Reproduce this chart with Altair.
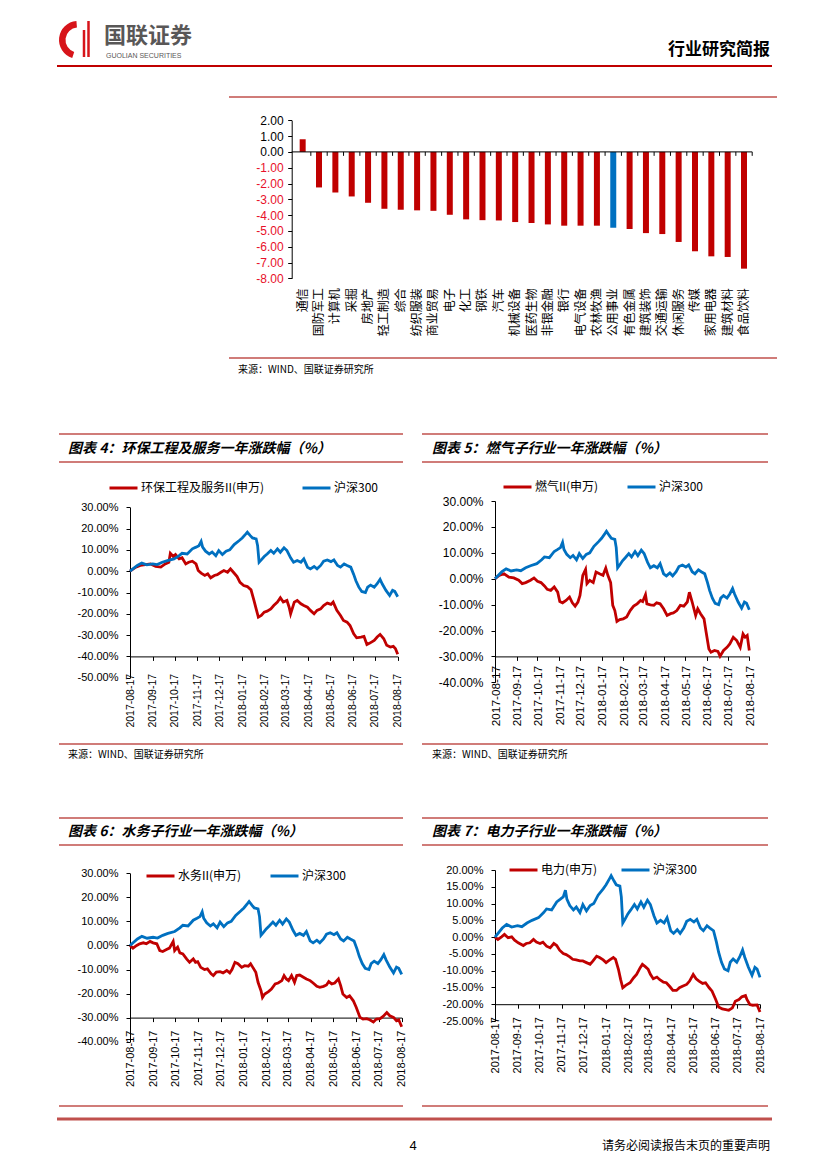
import altair as alt
import pandas as pd

CJK = "Noto Sans CJK SC"
LAT = "Liberation Sans"
SERIES_RED = "#C00000"
SERIES_BLUE = "#0070C0"
RULE_RED = "#C0504D"
W, H = 811, 1153


def P(v):
    return v - 8


# ---------------- data: industry bar chart ----------------
industries = ["通信", "国防军工", "计算机", "采掘", "房地产", "轻工制造", "综合", "纺织服装",
              "商业贸易", "电子", "化工", "钢铁", "汽车", "机械设备", "医药生物", "非银金融",
              "银行", "电气设备", "农林牧渔", "公用事业", "有色金属", "建筑装饰", "交通运输",
              "休闲服务", "传媒", "家用电器", "建筑材料", "食品饮料"]
changes = [0.80, -2.25, -2.57, -2.82, -3.22, -3.60, -3.66, -3.70, -3.73, -3.98, -4.27, -4.32,
           -4.34, -4.44, -4.50, -4.59, -4.67, -4.67, -4.67, -4.80, -4.88, -5.14, -5.20, -5.70,
           -6.29, -6.61, -6.65, -7.39]
highlight = "公用事业"
bar_ticks = [2, 1, 0, -1, -2, -3, -4, -5, -6, -7, -8]

# ---------------- data: 沪深300 ----------------
hs_dates = ["2017-08-17", "2017-08-27", "2017-09-02", "2017-09-09", "2017-09-17", "2017-09-23",
            "2017-09-30", "2017-10-07", "2017-10-16", "2017-10-23", "2017-10-27", "2017-11-03",
            "2017-11-10", "2017-11-15", "2017-11-19", "2017-11-22", "2017-11-24", "2017-11-28",
            "2017-12-03", "2017-12-07", "2017-12-12", "2017-12-16", "2017-12-21", "2017-12-26",
            "2017-12-31", "2018-01-06", "2018-01-13", "2018-01-17", "2018-01-22", "2018-01-24",
            "2018-01-28", "2018-01-31", "2018-02-05", "2018-02-07", "2018-02-09", "2018-02-12",
            "2018-02-16", "2018-02-20", "2018-02-25", "2018-03-01", "2018-03-06", "2018-03-10",
            "2018-03-15", "2018-03-19", "2018-03-24", "2018-03-28", "2018-04-02", "2018-04-07",
            "2018-04-11", "2018-04-16", "2018-04-20", "2018-04-25", "2018-04-29", "2018-05-04",
            "2018-05-08", "2018-05-13", "2018-05-18", "2018-05-22", "2018-05-27", "2018-05-31",
            "2018-06-05", "2018-06-09", "2018-06-14", "2018-06-18", "2018-06-21", "2018-06-25",
            "2018-06-29", "2018-07-04", "2018-07-07", "2018-07-11", "2018-07-16", "2018-07-20",
            "2018-07-24", "2018-07-27", "2018-08-01", "2018-08-06", "2018-08-10", "2018-08-13",
            "2018-08-17"]
hs_vals = [0, 2.7, 3.8, 3.0, 3.4, 3.1, 4.2, 5.0, 5.8, 7.3,
           8.4, 8.1, 10.5, 11.3, 12.0, 14.0, 11.3, 9.4, 8.1, 9.0,
           7.3, 9.7, 7.8, 9.4, 10.0, 12.5, 14.4, 15.6, 17.5, 18.3,
           16.7, 15.6, 15.2, 12.0, 4.2, 5.3, 6.9, 8.1, 9.7, 8.4,
           10.5, 8.9, 11.0, 9.7, 6.3, 4.2, 5.0, 4.2, 5.8, 1.9,
           1.1, 2.2, 1.1, 2.7, 4.7, 5.3, 4.5, 5.3, 2.7, 1.9,
           3.4, 2.7, 1.9, -1.5, -4.5, -7.5, -9.5, -10.0, -7.5, -6.5,
           -7.5, -5.9, -3.8, -6.0, -9.0, -11.4, -9.0, -9.5, -12.0]

# ---------------- data: 环保工程及服务II ----------------
hb_dates = ["2017-08-17", "2017-08-25", "2017-08-31", "2017-09-07", "2017-09-14", "2017-09-21",
            "2017-09-28", "2017-10-04", "2017-10-09", "2017-10-11", "2017-10-15", "2017-10-18",
            "2017-10-23", "2017-10-27", "2017-11-01", "2017-11-05", "2017-11-10", "2017-11-15",
            "2017-11-18", "2017-11-22", "2017-11-27", "2017-12-01", "2017-12-05", "2017-12-10",
            "2017-12-14", "2017-12-19", "2017-12-23", "2017-12-28", "2018-01-01", "2018-01-05",
            "2018-01-10", "2018-01-14", "2018-01-19", "2018-01-24", "2018-01-29", "2018-02-02",
            "2018-02-05", "2018-02-08", "2018-02-12", "2018-02-16", "2018-02-20", "2018-02-25",
            "2018-03-01", "2018-03-06", "2018-03-10", "2018-03-14", "2018-03-19", "2018-03-22",
            "2018-03-24", "2018-03-29", "2018-04-02", "2018-04-07", "2018-04-11", "2018-04-16",
            "2018-04-20", "2018-04-25", "2018-04-29", "2018-05-04", "2018-05-08", "2018-05-13",
            "2018-05-18", "2018-05-21", "2018-05-26", "2018-05-31", "2018-06-04", "2018-06-09",
            "2018-06-13", "2018-06-18", "2018-06-22", "2018-06-28", "2018-07-02", "2018-07-06",
            "2018-07-10", "2018-07-16", "2018-07-20", "2018-07-24", "2018-07-29", "2018-08-02",
            "2018-08-07", "2018-08-11", "2018-08-14", "2018-08-17"]
hb_vals = [0, 1.9, 2.7, 3.1, 3.4, 2.2, 1.9, 3.4, 4.2, 8.4,
           6.9, 7.8, 5.8, 6.3, 3.4, 4.2, 4.7, 3.4, 0.3, -0.9,
           -2.0, -1.25, -3.1, -2.0, -1.6, -0.5, 0.3, -0.5, 1.1, -0.5,
           -2.5, -5.2, -6.7, -7.2, -8.75, -13.75, -17.7, -21.6, -20.8, -19.2,
           -18.75, -17.7, -16.1, -14.5, -12.5, -14.5, -13.75, -16.9, -20.0, -14.5,
           -13.75, -15.3, -16.1, -16.9, -18.4, -20.0, -18.4, -17.7, -16.1, -15.0,
           -15.6, -14.5, -18.4, -20.8, -23.1, -23.9, -25.5, -29.4, -31.25, -30.9,
           -30.6, -34.4, -33.75, -32.5, -30.9, -29.7, -31.7, -34.8, -35.6, -35.3,
           -36.4, -39.0]

# ---------------- data: 燃气II ----------------
rq_dates = ["2017-08-17", "2017-08-23", "2017-08-30", "2017-09-06", "2017-09-13", "2017-09-20",
            "2017-09-25", "2017-09-30", "2017-10-07", "2017-10-12", "2017-10-17", "2017-10-22",
            "2017-10-27", "2017-10-31", "2017-11-05", "2017-11-10", "2017-11-15", "2017-11-18",
            "2017-11-22", "2017-11-27", "2017-12-02", "2017-12-06", "2017-12-10", "2017-12-14",
            "2017-12-17", "2017-12-21", "2017-12-25", "2017-12-27", "2017-12-31", "2018-01-05",
            "2018-01-09", "2018-01-14", "2018-01-19", "2018-01-23", "2018-01-26", "2018-01-30",
            "2018-02-02", "2018-02-05", "2018-02-08", "2018-02-12", "2018-02-17", "2018-02-22",
            "2018-02-27", "2018-03-04", "2018-03-09", "2018-03-14", "2018-03-17", "2018-03-21",
            "2018-03-23", "2018-03-28", "2018-04-02", "2018-04-06", "2018-04-11", "2018-04-16",
            "2018-04-21", "2018-04-26", "2018-04-30", "2018-05-05", "2018-05-10", "2018-05-15",
            "2018-05-20", "2018-05-23", "2018-05-27", "2018-06-01", "2018-06-04", "2018-06-08",
            "2018-06-13", "2018-06-16", "2018-06-20", "2018-06-23", "2018-06-28", "2018-07-03",
            "2018-07-06", "2018-07-11", "2018-07-16", "2018-07-20", "2018-07-25", "2018-07-30",
            "2018-08-04", "2018-08-08", "2018-08-11", "2018-08-14", "2018-08-17"]
rq_vals = [0, 1.3, 1.9, 0.6, 0.3, -0.6, -1.9, -1.5, -0.6, 0.3,
           -1.0, -1.5, -2.8, -4.1, -4.5, -3.2, -5.2, -8.8, -9.3, -8.4,
           -7.1, -9.3, -10.6, -9.0, -6.5, 1.3, 3.6, -1.9, -0.6, -1.5,
           2.6, 1.9, 1.3, 4.1, 1.3, -1.5, -10.3, -12.3, -16.5, -15.8,
           -15.5, -14.8, -12.3, -10.6, -9.7, -8.4, -8.8, -6.2, -9.7, -10.1,
           -10.3, -9.3, -9.7, -11.6, -14.2, -13.5, -13.2, -12.3, -10.3, -10.6,
           -9.0, -5.2, -9.0, -14.2, -11.6, -13.5, -15.5, -20.6, -27.1, -28.4,
           -27.7, -28.1, -29.9, -27.7, -26.5, -25.2, -22.6, -23.9, -26.5, -21.3,
           -22.6, -21.9, -27.7]

# ---------------- data: 水务II ----------------
sw_dates = ["2017-08-17", "2017-08-21", "2017-08-26", "2017-08-30", "2017-09-04", "2017-09-08",
            "2017-09-13", "2017-09-17", "2017-09-22", "2017-09-26", "2017-09-30", "2017-10-05",
            "2017-10-09", "2017-10-14", "2017-10-16", "2017-10-20", "2017-10-23", "2017-10-27",
            "2017-11-01", "2017-11-05", "2017-11-10", "2017-11-13", "2017-11-16", "2017-11-20",
            "2017-11-25", "2017-11-29", "2017-12-04", "2017-12-07", "2017-12-11", "2017-12-16",
            "2017-12-20", "2017-12-25", "2017-12-29", "2018-01-01", "2018-01-05", "2018-01-09",
            "2018-01-14", "2018-01-18", "2018-01-23", "2018-01-26", "2018-01-29", "2018-02-02",
            "2018-02-05", "2018-02-09", "2018-02-11", "2018-02-14", "2018-02-19", "2018-02-23",
            "2018-02-28", "2018-03-04", "2018-03-09", "2018-03-12", "2018-03-15", "2018-03-18",
            "2018-03-22", "2018-03-26", "2018-03-29", "2018-04-02", "2018-04-07", "2018-04-11",
            "2018-04-16", "2018-04-20", "2018-04-25", "2018-04-29", "2018-05-04", "2018-05-08",
            "2018-05-11", "2018-05-15", "2018-05-19", "2018-05-24", "2018-05-27", "2018-05-30",
            "2018-06-04", "2018-06-08", "2018-06-13", "2018-06-17", "2018-06-22", "2018-06-26",
            "2018-07-01", "2018-07-05", "2018-07-10", "2018-07-14", "2018-07-19", "2018-07-23",
            "2018-07-28", "2018-08-01", "2018-08-06", "2018-08-10", "2018-08-13", "2018-08-17"]
sw_vals = [0, -1.1, 0, 0.7, 1.1, 0.7, 1.7, 1.1, 0.7, -2.1,
           -2.5, -1.7, -1.1, 1.7, -2.1, -0.7, -3.1, -3.5, -5.6, -7.0,
           -5.6, -7.0, -6.7, -9.1, -10.0, -9.7, -11.8, -12.5, -11.1, -10.9,
           -11.4, -10.4, -11.4, -10.0, -7.0, -7.6, -9.1, -8.4, -8.6, -7.6,
           -9.1, -11.1, -15.3, -18.8, -21.6, -20.2, -19.2, -18.1, -16.0, -15.6,
           -14.6, -12.5, -13.9, -14.6, -12.5, -15.3, -12.5, -12.3, -13.2, -13.9,
           -14.6, -15.6, -17.0, -17.4, -17.0, -16.4, -15.0, -16.0, -15.6, -13.9,
           -16.7, -20.2, -21.6, -20.9, -23.0, -25.8, -29.9, -30.6, -30.4, -30.9,
           -31.8, -30.6, -30.4, -29.5, -27.9, -29.2, -29.9, -31.3, -30.9, -33.8]

# ---------------- data: 电力 ----------------
dl_dates = ["2017-08-17", "2017-08-21", "2017-08-26", "2017-08-30", "2017-09-04", "2017-09-09",
            "2017-09-13", "2017-09-18", "2017-09-25", "2017-09-29", "2017-10-04", "2017-10-09",
            "2017-10-13", "2017-10-18", "2017-10-22", "2017-10-27", "2017-11-01", "2017-11-06",
            "2017-11-10", "2017-11-14", "2017-11-19", "2017-11-23", "2017-11-28", "2017-12-02",
            "2017-12-07", "2017-12-12", "2017-12-16", "2017-12-21", "2017-12-26", "2017-12-30",
            "2018-01-04", "2018-01-08", "2018-01-13", "2018-01-17", "2018-01-22", "2018-01-27",
            "2018-01-30", "2018-02-03", "2018-02-06", "2018-02-09", "2018-02-13", "2018-02-19",
            "2018-02-24", "2018-02-28", "2018-03-05", "2018-03-08", "2018-03-12", "2018-03-16",
            "2018-03-19", "2018-03-23", "2018-03-28", "2018-04-01", "2018-04-06", "2018-04-10",
            "2018-04-15", "2018-04-19", "2018-04-24", "2018-04-28", "2018-05-03", "2018-05-08",
            "2018-05-12", "2018-05-17", "2018-05-21", "2018-05-25", "2018-05-30", "2018-06-03",
            "2018-06-08", "2018-06-12", "2018-06-17", "2018-06-21", "2018-06-26", "2018-07-01",
            "2018-07-05", "2018-07-10", "2018-07-14", "2018-07-19", "2018-07-23", "2018-07-28",
            "2018-07-30", "2018-08-03", "2018-08-07", "2018-08-13", "2018-08-17"]
dl_vals = [0, -0.7, 0.1, 0.8, -0.2, 0.1, -0.9, -1.7, -2.5, -1.9,
           -1.7, -0.7, -1.5, -1.9, -1.5, -2.7, -3.2, -1.9, -2.5, -3.9,
           -4.9, -5.2, -5.9, -6.6, -6.8, -7.1, -7.1, -7.6, -8.1, -7.1,
           -5.7, -6.1, -6.8, -7.6, -6.8, -6.1, -6.6, -9.6, -12.6, -15.1,
           -14.4, -13.6, -12.1, -11.1, -9.1, -8.1, -8.8, -9.6, -11.1, -12.4,
           -11.9, -12.7, -13.4, -13.6, -14.8, -15.9, -15.9, -15.1, -14.6, -14.1,
           -13.1, -11.1, -12.4, -13.1, -13.8, -13.6, -15.1, -16.1, -18.6, -20.8,
           -21.4, -21.6, -21.8, -21.1, -19.1, -18.6, -17.8, -17.4, -18.6, -20.1,
           -20.3, -20.2, -22.3]

tick_months = [(2017, 8), (2017, 9), (2017, 10), (2017, 11), (2017, 12), (2018, 1), (2018, 2),
               (2018, 3), (2018, 4), (2018, 5), (2018, 6), (2018, 7), (2018, 8)]

# ---------------- helpers ----------------
blank = alt.Data(values=[{}])


def deco_text(s, x, y, size, color="#000000", weight="normal", style="normal",
              font=CJK, align="left"):
    return alt.Chart(blank).mark_text(
        text=s, font=font, fontSize=size, color=color, fontWeight=weight,
        fontStyle=style, align=align, baseline="middle"
    ).encode(x=alt.value(P(x)), y=alt.value(P(y)))


def deco_rule(x1, x2, y, color, width):
    return alt.Chart(blank).mark_rule(color=color, strokeWidth=width).encode(
        x=alt.value(P(x1)), x2=alt.value(P(x2)), y=alt.value(P(y)))


def deco_vrule(x, y1, y2, color, width):
    return alt.Chart(blank).mark_rule(color=color, strokeWidth=width).encode(
        x=alt.value(P(x)), y=alt.value(P(y1)), y2=alt.value(P(y2)))


PCT = "(datum.value < 0 ? '-' : '') + format(abs(datum.value), '.2f') + '%'"
START = alt.DateTime(year=2017, month=8, date=17, utc=True)
END = alt.DateTime(year=2018, month=8, date=17, utc=True)
TICKS = [alt.DateTime(year=y, month=m, date=17, utc=True) for (y, m) in tick_months]


def line_panel(name, dates, vals, xr, yr, ydom, yvals, xaxis_y, yaxis_x, xpad, xfs, yfs,
               legx, legy, colpad):
    xenc = alt.X(
        "日期:T",
        scale=alt.Scale(type="utc", domain=[START, END], range=[P(xr[0]), P(xr[1])], nice=False),
        axis=alt.Axis(orient="bottom", offset=P(xaxis_y) - H, values=TICKS,
                      labelExpr="utcFormat(datum.value, '%Y-%m-%d')", labelAngle=-90,
                      labelPadding=xpad, labelFont=LAT, labelFontSize=xfs, tickSize=4,
                      labelOverlap=False, labelFlush=False, title=None,
                      domainColor="#000000", tickColor="#000000", labelColor="#000000"))
    yenc = alt.Y(
        "涨跌幅:Q",
        scale=alt.Scale(domain=ydom, range=[P(yr[0]), P(yr[1])], nice=False, zero=False),
        axis=alt.Axis(orient="left", offset=-P(yaxis_x), values=yvals, labelExpr=PCT,
                      labelFont=LAT, labelFontSize=yfs, tickSize=4, labelPadding=8,
                      title=None, labelOverlap=False, labelFlush=False,
                      domainColor="#000000", tickColor="#000000", labelColor="#000000"))
    color = alt.Color(
        "系列:N",
        scale=alt.Scale(domain=[name, "沪深300"], range=[SERIES_RED, SERIES_BLUE]),
        legend=alt.Legend(orient="none", legendX=P(legx), legendY=P(legy) - 7,
                          direction="horizontal", title=None, symbolType="stroke",
                          symbolStrokeWidth=3, symbolSize=784, labelFont=CJK,
                          labelFontSize=12, labelColor="#000000", labelOffset=2,
                          columnPadding=colpad, padding=0, clipHeight=14, labelLimit=300))
    red_df = pd.DataFrame({"日期": dates, "涨跌幅": vals, "系列": name})
    hs_df = pd.DataFrame({"日期": hs_dates, "涨跌幅": hs_vals, "系列": "沪深300"})
    red = alt.Chart(red_df).mark_line(strokeWidth=2.8).encode(x=xenc, y=yenc, color=color)
    blue = alt.Chart(hs_df).mark_line(strokeWidth=2.8).encode(x=xenc, y=yenc, color=color)
    return alt.layer(red, blue)


# ---------------- bar chart ----------------
bar_df = pd.DataFrame({"行业": industries, "涨跌幅": changes,
                       "类别": ["公用事业" if n == highlight else "其他" for n in industries]})
bar_x = alt.X(
    "行业:N", sort=industries,
    scale=alt.Scale(range=[P(294.5), P(752.2)], paddingInner=0, paddingOuter=0),
    axis=alt.Axis(orient="bottom", offset=P(278.3) - H, domain=False, ticks=False,
                  labelAngle=-90, labelPadding=9.5, labelFont=CJK, labelFontSize=12,
                  labelColor="#000000", title=None, labelOverlap=False))
bar_y = alt.Y(
    "涨跌幅:Q",
    scale=alt.Scale(domain=[-8, 2], range=[P(278.3), P(120.3)], nice=False, zero=False),
    axis=alt.Axis(orient="left", offset=-P(291.7), values=bar_ticks,
                  labelExpr="(datum.value < 0 ? '-' : '') + format(abs(datum.value), '.2f')",
                  labelColor={"condition": {"test": "datum.value < 0", "value": "#E8102A"},
                              "value": "#000000"},
                  labelFont=LAT, labelFontSize=12, tickSize=4, labelPadding=4.5, title=None,
                  domainColor="#000000", tickColor="#000000", labelOverlap=False))
bars = alt.Chart(bar_df).mark_bar(size=6).encode(
    x=bar_x, y=bar_y,
    color=alt.Color("类别:N", scale=alt.Scale(domain=["其他", "公用事业"],
                                             range=[SERIES_RED, SERIES_BLUE]), legend=None))
zero_line = alt.Chart(blank).mark_rule(color="#000000", strokeWidth=1).encode(
    y=alt.datum(0), x=alt.value(P(291.7)), x2=alt.value(P(752.2)))
sep_ticks = alt.Chart(bar_df).mark_rule(color="#000000", xOffset=8.17).encode(
    x=alt.X("行业:N", sort=industries), y=alt.datum(0), y2=alt.datum(-0.25))
bar_layer = alt.layer(bars, zero_line, sep_ticks)

# ---------------- line panels ----------------
c4 = line_panel("环保工程及服务II(申万)", hb_dates, hb_vals, (130, 397.7), (677.7, 507.3),
                [-50, 30], [30, 20, 10, 0, -10, -20, -30, -40, -50], 656.4, 130, 13, 10.5, 11,
                108, 488, 36)
c5 = line_panel("燃气II(申万)", rq_dates, rq_vals, (495, 749.3), (682.3, 501),
                [-40, 30], [30, 20, 10, 0, -10, -20, -30, -40], 656.4, 495, 5, 11.8, 12,
                502, 487, 27)
c6 = line_panel("水务II(申万)", sw_dates, sw_vals, (130, 401.7), (1041.7, 873.3),
                [-40, 30], [30, 20, 10, 0, -10, -20, -30, -40], 1017.6, 130, 8.5, 11, 11,
                145, 876, 27)
c7 = line_panel("电力(申万)", dl_dates, dl_vals, (495, 760), (1021, 870),
                [-25, 20], [20, 15, 10, 5, 0, -5, -10, -15, -20, -25], 1004.2, 495, 8.5, 11, 11,
                508, 870, 22)

# ---------------- page decorations ----------------
logo_arc = alt.Chart(blank).mark_arc(color="#D7141A", radius=19, radius2=12.5,
                                     theta=3.45, theta2=6.2).encode(
    x=alt.value(P(78)), y=alt.value(P(40)))
deco = [
    logo_arc,
    deco_vrule(84, 30, 57, "#D7141A", 2.5),
    deco_vrule(88.5, 21, 57, "#D7141A", 2.5),
    deco_text("国联证券", 104, 36, 22, color="#595757", weight="bold"),
    deco_text("GUOLIAN SECURITIES", 106, 56, 7, color="#595757", font=LAT),
    deco_text("行业研究简报", 770, 50, 17, weight="bold", align="right"),
    deco_rule(57, 772, 66, "#C00000", 2),
    deco_rule(229, 777, 97, RULE_RED, 1.5),
    deco_rule(229, 777, 358, RULE_RED, 1.5),
    deco_text("来源：WIND、国联证券研究所", 238, 370, 10),
    # panels 4 / 5
    deco_rule(59, 403, 434, RULE_RED, 1.5),
    deco_rule(59, 403, 462, RULE_RED, 1.5),
    deco_rule(59, 403, 744, RULE_RED, 1.5),
    deco_rule(422, 768, 434, RULE_RED, 1.5),
    deco_rule(422, 768, 462, RULE_RED, 1.5),
    deco_rule(422, 768, 744, RULE_RED, 1.5),
    deco_text("图表 4：环保工程及服务一年涨跌幅（%）", 68, 449, 14, weight="bold", style="italic"),
    deco_text("图表 5：燃气子行业一年涨跌幅（%）", 432, 449, 14, weight="bold", style="italic"),
    deco_text("来源：WIND、国联证券研究所", 68, 755, 10),
    deco_text("来源：WIND、国联证券研究所", 432, 755, 10),
    # panels 6 / 7
    deco_rule(59, 403, 818, RULE_RED, 1.5),
    deco_rule(59, 403, 845, RULE_RED, 1.5),
    deco_rule(59, 403, 1106, RULE_RED, 1.5),
    deco_rule(422, 768, 818, RULE_RED, 1.5),
    deco_rule(422, 768, 845, RULE_RED, 1.5),
    deco_rule(422, 768, 1106, RULE_RED, 1.5),
    deco_text("图表 6：水务子行业一年涨跌幅（%）", 68, 832, 14, weight="bold", style="italic"),
    deco_text("图表 7：电力子行业一年涨跌幅（%）", 432, 832, 14, weight="bold", style="italic"),
    # footer
    deco_rule(57, 772, 1119, RULE_RED, 3),
    deco_text("4", 413, 1146, 13, font=LAT, align="center"),
    deco_text("请务必阅读报告末页的重要声明", 770, 1146, 12, align="right"),
]

chart = alt.layer(*deco, bar_layer, c4, c5, c6, c7).resolve_scale(
    x="independent", y="independent", color="independent"
).resolve_axis(
    x="independent", y="independent"
).resolve_legend(
    color="independent"
).properties(
    width=W, height=H, padding=0, autosize=alt.AutoSizeParams(type="none")
).configure_view(
    strokeWidth=0
).configure_axis(
    grid=False
)

chart.save("out.html", embed_options={"renderer": "svg", "actions": False})
